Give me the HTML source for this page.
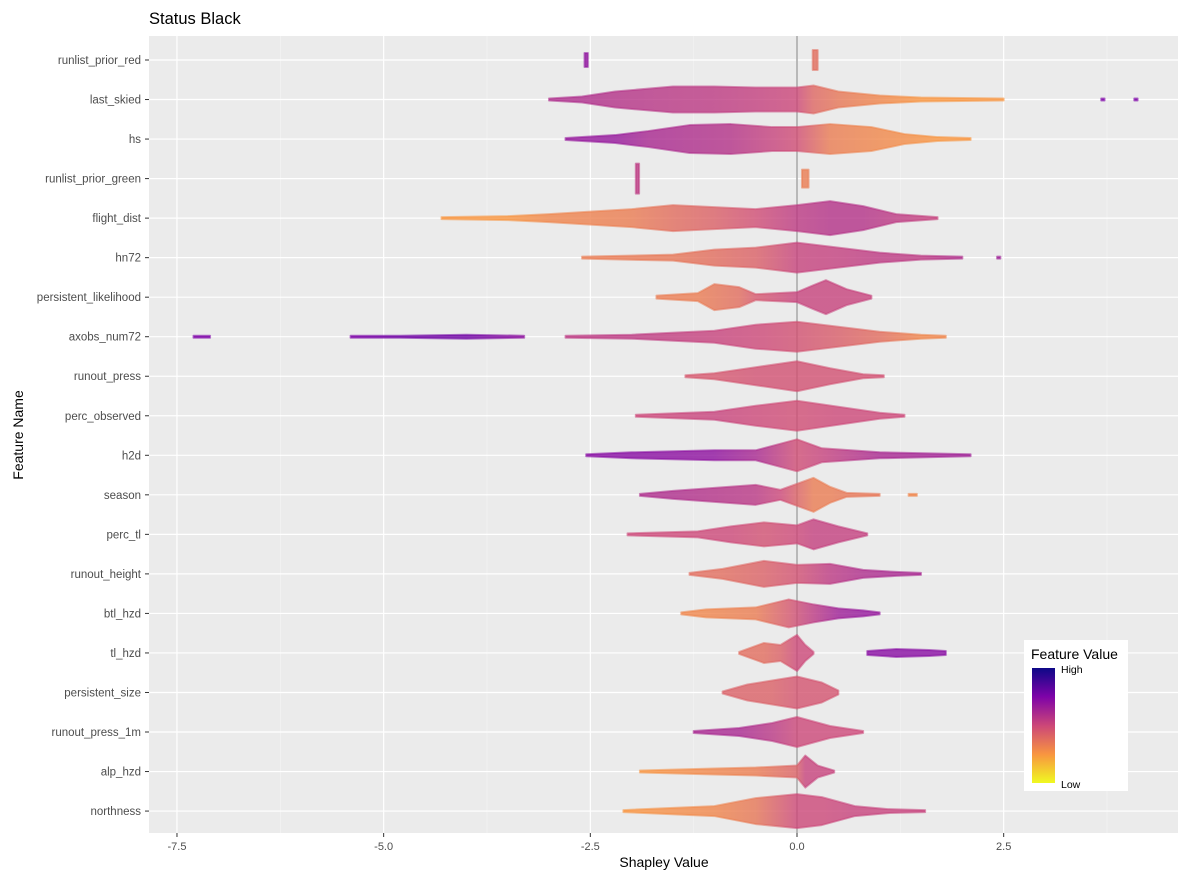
<!DOCTYPE html>
<html><head><meta charset="utf-8"><style>
body{margin:0;background:#fff;font-family:"Liberation Sans",sans-serif}
</style></head><body>
<svg id="chart" width="1191" height="884" xmlns="http://www.w3.org/2000/svg" font-family="Liberation Sans, sans-serif">
<defs id="defs"></defs>
<text x="149" y="24" font-size="16.5" fill="#000">Status Black</text>
<rect x="149" y="36" width="1029" height="797" fill="#ebebeb"/>
<g id="grid"></g>
<g id="marks"></g>
<g id="axes"></g>
<text x="664" y="867" font-size="14" text-anchor="middle">Shapley Value</text>
<text transform="translate(23,435) rotate(-90)" font-size="14" text-anchor="middle">Feature Name</text>
<g>
<rect x="1024" y="640" width="104" height="151" fill="#fff"/>
<text x="1031" y="659" font-size="14">Feature Value</text>
<linearGradient id="lg" x1="0" y1="0" x2="0" y2="1"><stop offset="0" stop-color="#0d0887"/><stop offset="0.25" stop-color="#7e03a8"/><stop offset="0.5" stop-color="#cc4778"/><stop offset="0.75" stop-color="#f89540"/><stop offset="1" stop-color="#f0f921"/></linearGradient>
<rect x="1032" y="668" width="23" height="115" fill="url(#lg)"/>
<text x="1061" y="673" font-size="10.5">High</text>
<text x="1061" y="788" font-size="10.5">Low</text>
</g>
</svg>
<script>
const features=["runlist_prior_red","last_skied","hs","runlist_prior_green","flight_dist","hn72","persistent_likelihood","axobs_num72","runout_press","perc_observed","h2d","season","perc_tl","runout_height","btl_hzd","tl_hzd","persistent_size","runout_press_1m","alp_hzd","northness"];
const xTicks=[-7.5,-5,-2.5,0,2.5];
const xTickLabels=["-7.5","-5.0","-2.5","0.0","2.5"];
// null splits separate clusters
const shapKnots=[
[-2.57,-2.53,null,0.19,0.25],
[-3,-2.6,-2.2,-1.5,-1,-0.5,0,0.2,0.5,1,1.5,2,2.5,null,3.68,3.72,null,4.08,4.12],
[-2.8,-2.2,-1.8,-1.3,-0.8,-0.3,0,0.4,0.9,1.3,1.7,2.1],
[-1.95,-1.91,null,0.06,0.14],
[-4.3,-3.5,-3,-2,-1.5,-1,-0.5,0,0.4,0.8,1.2,1.7],
[-2.6,-1.5,-1,-0.5,0,0.5,1,1.5,2.0,null,2.42,2.46],
[-1.7,-1.2,-1,-0.7,-0.5,0,0.2,0.35,0.6,0.9],
[-7.3,-7.1,null,-5.4,-4.8,-4,-3.3,null,-2.8,-2,-1,-0.5,0,0.5,1,1.5,1.8],
[-1.35,-1,-0.5,0,0.4,0.8,1.05],
[-1.95,-1,-0.5,0,0.5,1,1.3],
[-2.55,-2,-1,-0.5,0,0.3,1,2.1],
[-1.9,-1.5,-1,-0.5,-0.2,0.2,0.4,0.6,1.0,null,1.35,1.45],
[-2.05,-1.2,-0.8,-0.4,0,0.2,0.5,0.85],
[-1.3,-0.9,-0.4,0,0.4,0.8,1.2,1.5],
[-1.4,-1.1,-0.5,-0.1,0.2,0.5,0.8,1],
[-0.7,-0.4,-0.2,0,0.1,0.2,null,0.85,1.2,1.6,1.8],
[-0.9,-0.6,-0.3,0,0.3,0.5],
[-1.25,-0.7,-0.3,0,0.4,0.8],
[-1.9,-1,-0.5,0,0.1,0.25,0.45],
[-2.1,-1,-0.5,0,0.3,0.7,1.1,1.55]];
const widthKnots=[
[7,7,null,10,10],
[1,3,8,13,13,12,12,14,8,4,2,1.5,1,null,1,1,null,1,1],
[1,4,8,14,15,12,12,15,12,5,2,1],
[15,15,null,9,9],
[1,2,4,9,13,11,9,13,17,12,4,1],
[1,3,8,10,15,10,5,2,1,null,1,1],
[1.5,4,13,10,3,5,12,17,8,1.5],
[1,1,null,1,1,2,1,null,1,2,6,12,15,10,5,2,1],
[1,3,9,15,8,2,1],
[1,4,10,15,9,3,1],
[1,3,5,5,16,7,3,1],
[1,4,7,10,5,17,8,2,1,null,1,1],
[1,3,8,12,9,15,8,1],
[1,5,13,9,10,4,2,1],
[1,4,6,14,9,5,3,1],
[1,10,8,18,8,1,null,2,4,3,2],
[1,8,12,16,10,2],
[1,4,9,15,6,1],
[1,3,4,6,16,6,1],
[1,5,13,17,14,5,2,1]];
const colorKnots=[
[0.7,0.7,null,0.38,0.38],
[0.6,0.6,0.58,0.56,0.55,0.53,0.5,0.4,0.35,0.3,0.25,0.25,0.25,null,0.75,0.75,null,0.75,0.75],
[0.68,0.68,0.62,0.6,0.58,0.52,0.48,0.33,0.3,0.28,0.25,0.25],
[0.55,0.55,null,0.33,0.33],
[0.25,0.25,0.3,0.33,0.38,0.42,0.48,0.55,0.58,0.58,0.55,0.52],
[0.33,0.35,0.38,0.42,0.52,0.53,0.55,0.55,0.6,null,0.65,0.65],
[0.33,0.33,0.35,0.38,0.45,0.52,0.52,0.52,0.52,0.52],
[0.75,0.75,null,0.75,0.78,0.78,0.7,null,0.55,0.55,0.52,0.5,0.47,0.43,0.38,0.3,0.3],
[0.45,0.45,0.47,0.47,0.47,0.47,0.47],
[0.5,0.52,0.5,0.48,0.5,0.5,0.5],
[0.72,0.72,0.7,0.62,0.48,0.52,0.62,0.65],
[0.6,0.6,0.58,0.56,0.5,0.33,0.33,0.35,0.35,null,0.3,0.3],
[0.5,0.5,0.5,0.47,0.5,0.53,0.53,0.53],
[0.38,0.38,0.42,0.47,0.55,0.6,0.62,0.62],
[0.3,0.3,0.33,0.45,0.55,0.65,0.68,0.68],
[0.38,0.38,0.42,0.5,0.5,0.5,null,0.72,0.72,0.72,0.72],
[0.42,0.42,0.42,0.46,0.46,0.46],
[0.62,0.62,0.56,0.5,0.5,0.5],
[0.25,0.3,0.33,0.42,0.52,0.52,0.52],
[0.25,0.3,0.35,0.5,0.5,0.52,0.52,0.52]];

const NS="http://www.w3.org/2000/svg";
const P={l:149,r:1178,t:36,b:833};
function xs(v){return 797+v*82.67;}
function ys(i){return 60+i*39.53;}
const pl=[[13,8,135],[126,3,168],[204,71,120],[248,149,64],[240,249,33]];
function col(cv){let t=(1-cv)*4;let i=Math.max(0,Math.min(3,Math.floor(t)));let f=t-i;let a=pl[i],b=pl[i+1];
return "rgb("+a.map((c,k)=>Math.round(c+(b[k]-c)*f)).join(",")+")";}
function el(tag,attrs,parent){const e=document.createElementNS(NS,tag);for(const k in attrs)e.setAttribute(k,attrs[k]);parent.appendChild(e);return e;}
const grid=document.getElementById("grid"),marks=document.getElementById("marks"),axes=document.getElementById("axes"),defs=document.getElementById("defs");
for(let k=0;k<xTicks.length+1;k++){const v=xTicks[0]+1.25+k*2.5;const x=xs(v);if(x>P.l&&x<P.r){const g=el("line",{x1:x,x2:x,y1:P.t,y2:P.b,stroke:"#f5f5f5","stroke-width":0.6},grid);

}}
xTicks.forEach((v,k)=>{const x=xs(v);
const g=el("line",{x1:x,x2:x,y1:P.t,y2:P.b,stroke:"#fff","stroke-width":1.2},grid);


const tk=el("line",{x1:x,x2:x,y1:P.b,y2:P.b+4,stroke:"#333"},axes);


const t=el("text",{x:x,y:P.b+17,"font-size":11,fill:"#4d4d4d","text-anchor":"middle"},axes);t.textContent=xTickLabels[k];

});
features.forEach((f,i)=>{const y=ys(i);
const g=el("line",{x1:P.l,x2:P.r,y1:y,y2:y,stroke:"#fff","stroke-width":1.2},grid);


const tk=el("line",{x1:P.l-4,x2:P.l,y1:y,y2:y,stroke:"#333"},axes);


const t=el("text",{x:P.l-8,y:y+4,"font-size":11.5,fill:"#4d4d4d","text-anchor":"end"},axes);t.textContent=f;

});
const zl=el("line",{x1:xs(0),x2:xs(0),y1:P.t,y2:P.b,stroke:"#a6a6a6","stroke-width":1.5},grid);


let gid=0;
features.forEach((f,i)=>{const y=ys(i);const S=shapKnots[i],W=widthKnots[i],C=colorKnots[i];
let groups=[[]];S.forEach((v,k)=>{if(v===null)groups.push([]);else groups[groups.length-1].push(k);});
groups.forEach(g=>{if(!g.length)return;const x0=xs(S[g[0]]),x1=xs(S[g[g.length-1]]);
const id="gr"+(gid++);const lg=el("linearGradient",{id:id,gradientUnits:"userSpaceOnUse",x1:x0,x2:x1===x0?x0+1:x1,y1:0,y2:0},defs);
g.forEach(k=>{el("stop",{offset:x1===x0?0:(xs(S[k])-x0)/(x1-x0),"stop-color":col(C[k])},lg);});
let top=g.map(k=>xs(S[k])+","+(y-W[k]));let bot=g.slice().reverse().map(k=>xs(S[k])+","+(y+W[k]));
const p=el("polygon",{points:top.concat(bot).join(" "),fill:"url(#"+id+")","fill-opacity":0.8,stroke:"url(#"+id+")","stroke-opacity":0.55,"stroke-width":2,"stroke-linejoin":"round"},marks);

});});
</script>
</body></html>
